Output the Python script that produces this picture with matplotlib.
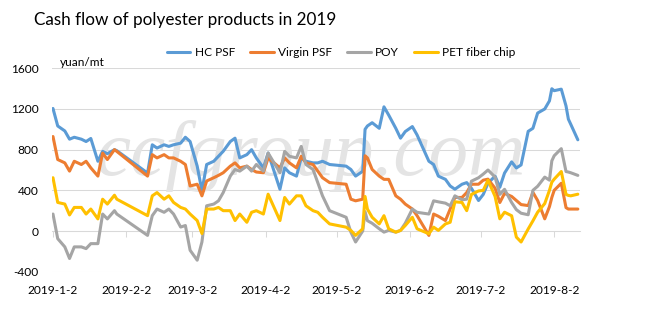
import matplotlib
matplotlib.use("Agg")
import matplotlib.pyplot as plt
import pandas as pd

plt.rcParams["font.family"] = ["Lato", "DejaVu Sans"]
plt.rcParams["axes.unicode_minus"] = False

# trading days (gap = Spring Festival)
DATES = [
    "2019-01-02", "2019-01-04", "2019-01-07", "2019-01-09", "2019-01-11", "2019-01-14",
    "2019-01-16", "2019-01-18", "2019-01-21", "2019-01-23", "2019-01-25", "2019-01-28",
    "2019-01-29",
    "2019-02-11", "2019-02-13", "2019-02-15", "2019-02-18", "2019-02-20", "2019-02-22",
    "2019-02-25", "2019-02-27", "2019-03-01",
    "2019-03-04", "2019-03-06", "2019-03-08", "2019-03-11", "2019-03-13", "2019-03-15",
    "2019-03-18", "2019-03-20", "2019-03-22", "2019-03-25", "2019-03-27", "2019-03-29",
    "2019-04-01", "2019-04-03", "2019-04-08", "2019-04-10", "2019-04-12", "2019-04-15",
    "2019-04-17", "2019-04-19", "2019-04-22", "2019-04-24", "2019-04-26", "2019-04-29",
    "2019-05-06", "2019-05-08", "2019-05-10", "2019-05-13", "2019-05-14", "2019-05-15",
    "2019-05-17", "2019-05-20", "2019-05-22", "2019-05-24", "2019-05-27", "2019-05-29",
    "2019-05-31",
    "2019-06-03", "2019-06-05", "2019-06-10", "2019-06-12", "2019-06-14", "2019-06-17",
    "2019-06-19", "2019-06-21", "2019-06-24", "2019-06-26", "2019-06-28",
    "2019-07-01", "2019-07-03", "2019-07-05", "2019-07-08", "2019-07-10", "2019-07-12",
    "2019-07-15", "2019-07-17", "2019-07-19", "2019-07-22", "2019-07-24", "2019-07-26",
    "2019-07-29", "2019-07-31",
    "2019-08-01", "2019-08-02", "2019-08-05", "2019-08-07", "2019-08-08", "2019-08-09",
    "2019-08-12",
]

HC_PSF = [
    1205, 1033, 984, 903, 922, 903, 880, 910, 686, 783, 760, 800, 790,
    570, 848, 816, 848, 832, 848, 864, 922, 880,
    638, 395, 654, 686, 735, 784, 880, 913, 719, 751, 800, 719,
    621, 767, 411, 621, 573, 540, 719, 686, 670, 670, 686, 654,
    638, 605, 540, 587, 1000, 1033, 1065, 1010, 1221, 1140, 1010, 913, 978,
    1027, 945, 686, 654, 540, 508, 443, 411, 460, 476, 420,
    300, 360, 470, 540, 430, 570, 680, 620, 650, 980, 1010, 1160, 1200, 1280,
    1399, 1380, 1395, 1230, 1100, 1050, 897,
]

VIRGIN_PSF = [
    929, 703, 670, 589, 686, 654, 686, 621, 540, 767, 703, 800, 783,
    540, 751, 719, 751, 719, 719, 686, 654, 443,
    460, 346, 492, 524, 547, 573, 638, 670, 621, 638, 605, 580,
    573, 719, 621, 719, 670, 621, 735, 670, 654, 589, 524, 476,
    460, 313, 297, 313, 740, 719, 605, 540, 508, 508, 346, 313, 265,
    216, 151, -43, 167, 145, 103, 216, 330, 330, 378, 460,
    460, 500, 510, 420, 280, 370, 340, 300, 260, 250, 380, 300, 120, 240,
    330, 400, 470, 230, 216, 216, 216,
]

POY = [
    167, -75, -156, -270, -156, -156, -173, -124, -124, 167, 119, 200, 167,
    -43, 151, 216, 184, 216, 167, 39, 54, -189,
    -287, -108, 248, 265, 297, 378, 540, 605, 589, 638, 589, 654,
    589, 767, 573, 783, 735, 719, 832, 654, 605, 476, 346, 200,
    135, -11, -108, 0, 190, 102, 76, 22, -11, 6, -11, 6, 76,
    216, 184, 167, 297, 287, 274, 248, 346, 307, 313, 490,
    524, 560, 600, 530, 360, 410, 280, 210, 175, 160, 400, 440, 530, 500,
    690, 740, 810, 585, 580, 573, 547,
]

PET_CHIP = [
    524, 281, 265, 158, 232, 232, 167, 216, 119, 313, 265, 352, 313,
    151, 346, 378, 313, 346, 281, 232, 216, 167,
    103, -25, 216, 216, 232, 200, 200, 103, 167, 86, 184, 200,
    167, 362, 103, 330, 265, 346, 346, 248, 200, 184, 135, 70,
    38, 6, -43, 22, 340, 216, 135, 70, 151, 22, -11, 6, 54,
    135, 22, -27, 38, 6, 70, 86, 287, 281, 200, 360,
    394, 400, 500, 340, 120, 185, 150, -60, -108, 20, 100, 185, 270, 400,
    480, 510, 585, 360, 350, 346, 362,
]

SERIES = ["HC PSF", "Virgin PSF", "POY", "PET fiber chip"]
COLORS = ["#5B9BD5", "#ED7D31", "#A5A5A5", "#FFC000"]

TICK_DATES = ["2019-01-02", "2019-02-02", "2019-03-02", "2019-04-02",
              "2019-05-02", "2019-06-02", "2019-07-02", "2019-08-02"]
TICK_LABELS = ["2019-1-2", "2019-2-2", "2019-3-2", "2019-4-2",
               "2019-5-2", "2019-6-2", "2019-7-2", "2019-8-2"]
Y_TICKS = [-400, 0, 400, 800, 1200, 1600]

W, H = 666, 326
fig = plt.figure(figsize=(W / 100, H / 100), dpi=100)
ax = fig.add_axes([52 / W, 1 - 271.7 / H, 528 / W, 203.4 / H])

x = pd.to_datetime(DATES)
for name, vals, color in zip(SERIES, [HC_PSF, VIRGIN_PSF, POY, PET_CHIP], COLORS):
    ax.plot(x, vals, color=color, lw=2.2, label=name,
            solid_joinstyle="round", solid_capstyle="round", zorder=3)

# faint site watermark behind the lines
ax.text(0.49, 0.57, "ccfgroup.com", transform=ax.transAxes, ha="center", va="center",
        fontsize=57, style="italic", family="Liberation Serif", color="#e4e4e4", zorder=1)

ax.set_ylim(-400, 1600)
ax.set_xlim(pd.Timestamp("2019-01-01 14:00"), pd.Timestamp("2019-08-12 22:00"))
ax.set_yticks(Y_TICKS)
ax.yaxis.grid(True, color="#d9d9d9", lw=0.75, zorder=0)
ax.set_axisbelow(True)
for s in ["top", "right", "left"]:
    ax.spines[s].set_visible(False)
ax.spines["bottom"].set_position(("data", 0))
ax.spines["bottom"].set_color("#d9d9d9")
ax.spines["bottom"].set_linewidth(0.75)

ax.set_xticks(pd.to_datetime(TICK_DATES))
ax.set_xticklabels(TICK_LABELS)
ax.tick_params(axis="x", direction="out", length=4, width=0.75, color="#d9d9d9",
               pad=35, labelsize=8.6, labelcolor="black")
ax.tick_params(axis="y", length=0, pad=9.5, labelsize=8.6, labelcolor="black")

fig.text(34 / W, 1 - 25 / H, "Cash flow of polyester products in 2019",
         fontsize=12.3, va="baseline", ha="left")
fig.text(60 / W, 1 - 62 / H, "yuan/mt", fontsize=8.6, va="center", ha="left")

fig.legend(loc="center", bbox_to_anchor=(341 / W, 1 - 53 / H), ncol=4, frameon=False,
           fontsize=8.6, handlelength=2.0, handletextpad=0.35, columnspacing=1.25)

fig.savefig("out.png", dpi=100)
